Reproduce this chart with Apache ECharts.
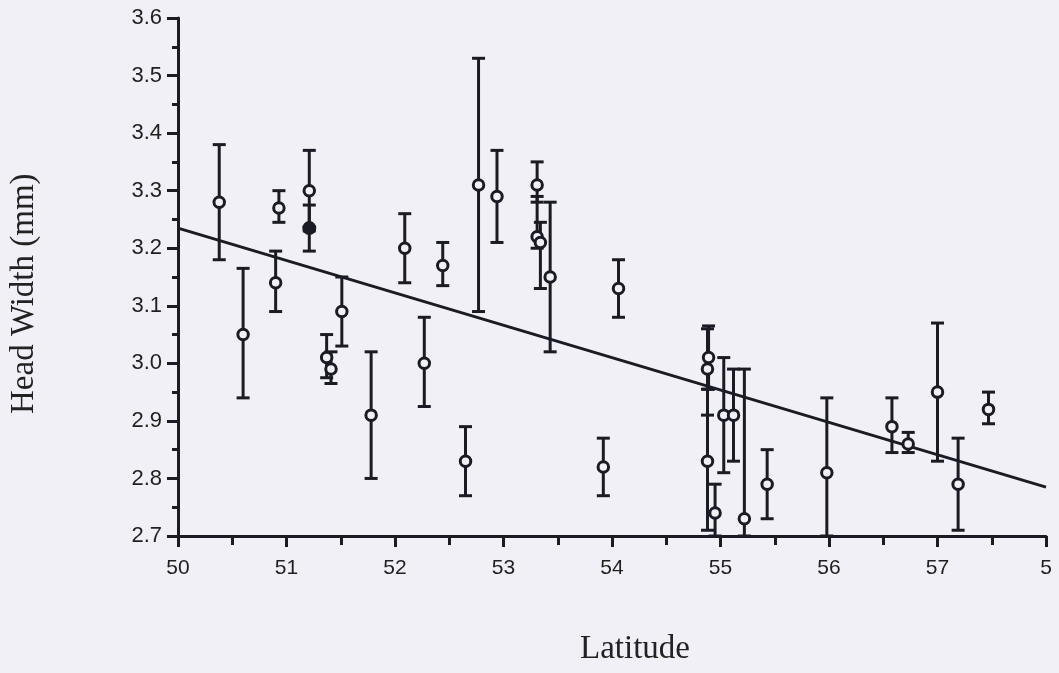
<!DOCTYPE html>
<html>
<head>
<meta charset="utf-8">
<script src="https://cdn.jsdelivr.net/npm/echarts@6/dist/echarts.min.js"></script>
<style>
  html, body { margin: 0; padding: 0; background: #f0f0f6; overflow: hidden; }
  #chart { width: 1059px; height: 673px; }
</style>
</head>
<body>
<div id="chart"></div>
<script>
// Sample-site latitude (degrees N)
const latitude = [50.38, 50.93, 51.21, 52.09, 52.44, 50.60, 50.90, 51.37, 51.41, 51.51,
  51.78, 52.27, 52.77, 52.94, 53.31, 53.31, 53.34, 53.43, 54.06, 52.65,
  53.92, 54.89, 54.88, 54.88, 54.95, 55.03, 55.12, 55.22, 55.43, 55.98,
  56.58, 56.73, 57.00, 57.19, 57.47];
// Mean head width (mm) per site
const headWidth = [3.28, 3.27, 3.30, 3.20, 3.17, 3.05, 3.14, 3.01, 2.99, 3.09,
  2.91, 3.00, 3.31, 3.29, 3.31, 3.22, 3.21, 3.15, 3.13, 2.83,
  2.82, 3.01, 2.99, 2.83, 2.74, 2.91, 2.91, 2.73, 2.79, 2.81,
  2.89, 2.86, 2.95, 2.79, 2.92];
// Error-bar limits
const lowerLimit = [3.18, 3.245, 3.23, 3.14, 3.135, 2.94, 3.09, 2.975, 2.965, 3.03,
  2.80, 2.925, 3.09, 3.21, 3.28, 3.20, 3.13, 3.02, 3.08, 2.77,
  2.77, 2.955, 2.91, 2.71, 2.70, 2.81, 2.83, 2.70, 2.73, 2.70,
  2.845, 2.845, 2.83, 2.71, 2.895];
const upperLimit = [3.38, 3.30, 3.37, 3.26, 3.21, 3.165, 3.195, 3.05, 3.02, 3.15,
  3.02, 3.08, 3.53, 3.37, 3.35, 3.29, 3.245, 3.28, 3.18, 2.89,
  2.87, 3.065, 3.06, 2.955, 2.79, 3.01, 2.99, 2.99, 2.85, 2.94,
  2.94, 2.88, 3.07, 2.87, 2.95];
// Single filled-symbol site
const filledLatitude = [51.21];
const filledHeadWidth = [3.235];
const filledLower = [3.195];
const filledUpper = [3.275];
// Fitted regression line end points
const fitLatitude = [50, 58];
const fitHeadWidth = [3.235, 2.785];
// Axis tick labels
const xTickLabels = ['50', '51', '52', '53', '54', '55', '56', '57', '5'];
const yTicks = [2.7, 2.8, 2.9, 3.0, 3.1, 3.2, 3.3, 3.4, 3.5, 3.6];

const ink = '#1b1b25';
const paper = '#f0f0f6';

const openPoints = latitude.map((x, i) => [x, headWidth[i]]);
const openBars = latitude.map((x, i) => [x, lowerLimit[i], upperLimit[i]]);
const filledPoints = filledLatitude.map((x, i) => [x, filledHeadWidth[i]]);
const filledBars = filledLatitude.map((x, i) => [x, filledLower[i], filledUpper[i]]);
const fitLine = fitLatitude.map((x, i) => [x, fitHeadWidth[i]]);

// Vertical bar with end caps, positioned through the cartesian axes
function renderErrorBar(params, api) {
  const x = api.value(0);
  const lo = api.coord([x, api.value(1)]);
  const hi = api.coord([x, api.value(2)]);
  const half = 6.5;
  const style = { stroke: ink, lineWidth: 3, fill: null };
  return {
    type: 'group',
    children: [
      { type: 'line', shape: { x1: lo[0], y1: lo[1], x2: hi[0], y2: hi[1] }, style },
      { type: 'line', shape: { x1: hi[0] - half, y1: hi[1], x2: hi[0] + half, y2: hi[1] }, style },
      { type: 'line', shape: { x1: lo[0] - half, y1: lo[1], x2: lo[0] + half, y2: lo[1] }, style }
    ]
  };
}

const chart = echarts.init(document.getElementById('chart'), null, { renderer: 'canvas' });

chart.setOption({
  backgroundColor: paper,
  animation: false,
  grid: { left: 178, right: 13, top: 18, bottom: 137, containLabel: false },
  xAxis: {
    type: 'value', min: 50, max: 58, interval: 1,
    axisLine: { show: true, onZero: false, lineStyle: { color: ink, width: 3 } },
    axisTick: { show: true, length: 11, lineStyle: { color: ink, width: 3 } },
    minorTick: { show: true, splitNumber: 2, length: 9, lineStyle: { color: ink, width: 3 } },
    splitLine: { show: false },
    axisLabel: {
      margin: 22, fontSize: 21, color: '#1f1f1f', fontFamily: 'Liberation Sans',
      formatter: (v) => xTickLabels[Math.round(v - 50)]
    }
  },
  yAxis: {
    type: 'value', min: 2.7, max: 3.6, interval: 0.1,
    axisLine: { show: true, onZero: false, lineStyle: { color: ink, width: 3 } },
    axisTick: { show: true, length: 11, lineStyle: { color: ink, width: 3 } },
    minorTick: { show: true, splitNumber: 2, length: 6, lineStyle: { color: ink, width: 3 } },
    splitLine: { show: false },
    axisLabel: {
      margin: 16, fontSize: 22, color: '#1f1f1f', fontFamily: 'Liberation Sans',
      formatter: (v) => {
        const t = yTicks.find(k => Math.abs(k - v) < 1e-6);
        return t === undefined ? '' : t.toFixed(1);
      }
    }
  },
  graphic: [
    {
      type: 'text', left: 580, top: 633,
      style: { text: 'Latitude', font: '33px "Liberation Serif"', fill: '#222' }
    },
    {
      type: 'text', x: 8, y: 414, rotation: Math.PI / 2,
      style: { text: 'Head Width (mm)', font: '33px "Liberation Serif"', fill: '#222' }
    }
  ],
  series: [
    {
      type: 'line', data: fitLine, symbol: 'none', silent: true,
      lineStyle: { color: ink, width: 3 }, z: 2
    },
    {
      type: 'custom', data: openBars, renderItem: renderErrorBar, clip: true, z: 3
    },
    {
      type: 'custom', data: filledBars, renderItem: renderErrorBar, clip: true, z: 3
    },
    {
      type: 'scatter', data: openPoints, symbol: 'circle', symbolSize: 10.5,
      itemStyle: { color: paper, borderColor: ink, borderWidth: 3, opacity: 1 }, z: 4
    },
    {
      type: 'scatter', data: filledPoints, symbol: 'circle', symbolSize: 12,
      itemStyle: { color: ink, borderColor: ink, borderWidth: 2, opacity: 1 }, z: 4
    }
  ]
});
</script>
</body>
</html>
